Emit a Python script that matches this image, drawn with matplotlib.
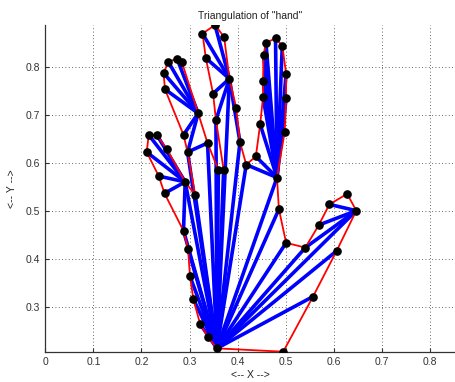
import matplotlib
matplotlib.use("Agg")
import matplotlib.pyplot as plt

plt.rcParams['font.family'] = ['Liberation Sans', 'DejaVu Sans']

# Outline of the hand, vertices in boundary order
vertex_x = [0.357, 0.495, 0.557, 0.606, 0.647, 0.628, 0.591, 0.569, 0.541, 0.501,
            0.486, 0.482, 0.498, 0.501, 0.501, 0.493, 0.479, 0.459, 0.454, 0.453,
            0.453, 0.447, 0.438, 0.418, 0.405, 0.397, 0.383, 0.372, 0.353, 0.327,
            0.334, 0.349, 0.355, 0.371, 0.360, 0.3375, 0.318, 0.284, 0.274, 0.256,
            0.246, 0.249, 0.2875, 0.296, 0.312, 0.291, 0.253, 0.232, 0.215, 0.211,
            0.236, 0.248, 0.2875, 0.297, 0.301, 0.308, 0.322, 0.339]
vertex_y = [0.213, 0.206, 0.321, 0.416, 0.500, 0.535, 0.513, 0.470, 0.423, 0.433,
            0.503, 0.569, 0.664, 0.734, 0.785, 0.844, 0.859, 0.850, 0.824, 0.770,
            0.737, 0.680, 0.613, 0.596, 0.643, 0.715, 0.775, 0.862, 0.887, 0.869,
            0.818, 0.744, 0.689, 0.585, 0.585, 0.641, 0.703, 0.810, 0.817, 0.810,
            0.787, 0.753, 0.658, 0.622, 0.532, 0.560, 0.628, 0.658, 0.658, 0.622,
            0.572, 0.536, 0.458, 0.420, 0.363, 0.316, 0.264, 0.236]

# Interior edges of the triangulation (pairs of vertex indices)
diag_a = [0, 0, 0, 4, 4, 4, 0, 0, 0, 0,
          11, 11, 11, 11, 11, 11, 11, 11, 11, 11, 11, 0,
          0, 24, 0, 26, 26, 26, 26, 26, 0, 0,
          0, 0, 35, 36, 36, 36, 36, 36, 36, 0, 0,
          0, 45, 45, 45, 45, 45, 45, 0, 0, 0, 0, 0]
diag_b = [2, 3, 4, 6, 7, 8, 8, 9, 10, 11,
          13, 14, 15, 16, 17, 18, 19, 20, 21, 22, 23, 23,
          24, 26, 26, 28, 29, 30, 31, 32, 32, 33,
          34, 35, 43, 38, 39, 40, 41, 42, 43, 43, 44,
          45, 47, 48, 49, 50, 51, 52, 52, 53, 54, 55, 56]

x_ticks = [0, 0.1, 0.2, 0.3, 0.4, 0.5, 0.6, 0.7, 0.8]
y_ticks = [0.3, 0.4, 0.5, 0.6, 0.7, 0.8]

fig = plt.figure(figsize=(4.55, 3.82), dpi=100)
ax = fig.add_axes([0.0996, 0.0793, 0.9, 0.8553])

for a, b in zip(diag_a, diag_b):
    ax.plot([vertex_x[a], vertex_x[b]], [vertex_y[a], vertex_y[b]],
            color='#0000ff', lw=2.6, solid_capstyle='round', zorder=2)

ax.plot(vertex_x + vertex_x[:1], vertex_y + vertex_y[:1],
        color='#ff0000', lw=1.3, zorder=3)
ax.plot(vertex_x, vertex_y, 'o', color='black', markersize=5.2, zorder=4)

ax.set_xlim(0, 0.852)
ax.set_ylim(0.206, 0.887)
ax.set_xticks(x_ticks)
ax.set_yticks(y_ticks)
ax.set_xticklabels([f"{v:g}" for v in x_ticks])
ax.set_yticklabels([f"{v:g}" for v in y_ticks])
ax.grid(True, color='#333333', linestyle=(0, (1, 3)), lw=0.6)
ax.set_axisbelow(True)
ax.tick_params(direction='in', length=3, labelsize=7.5, colors='#333333', pad=4)
for side in ('top', 'right'):
    ax.spines[side].set_visible(False)
for side in ('left', 'bottom'):
    ax.spines[side].set_color('#333333')
    ax.spines[side].set_linewidth(0.9)

ax.set_title('Triangulation of "hand"', fontsize=7.5, color='#222222', pad=4)
ax.set_xlabel('<-- X -->', fontsize=7.5, color='#222222', labelpad=2)
ax.set_ylabel('<-- Y -->', fontsize=7.5, color='#222222', labelpad=6)

fig.savefig('out.png', dpi=100)
